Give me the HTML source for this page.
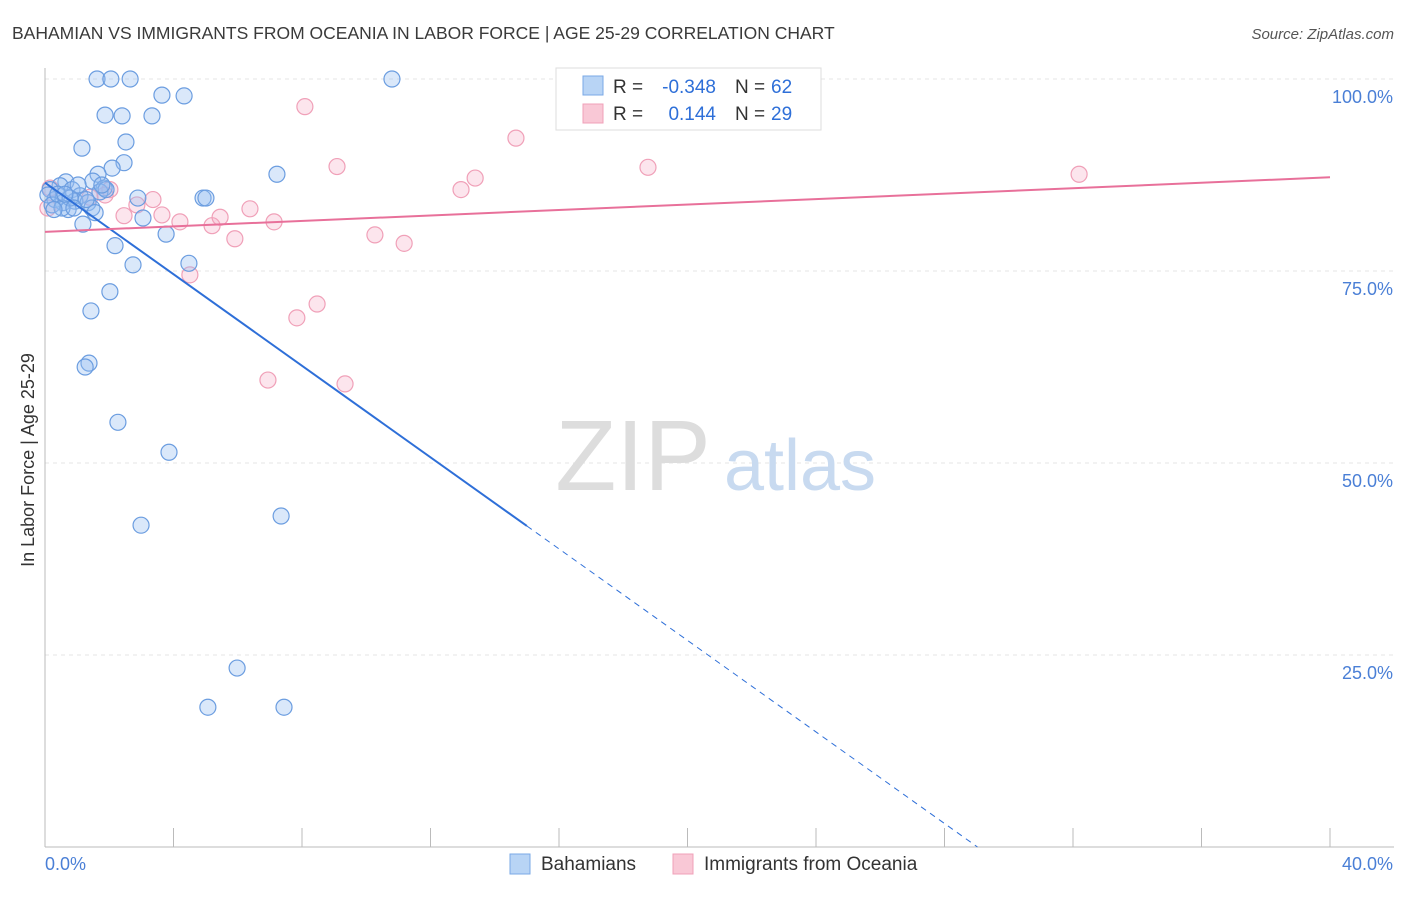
<!DOCTYPE html>
<html><head><meta charset="utf-8"><style>
body{margin:0;background:#fff;font-family:"Liberation Sans",sans-serif;}
svg text{font-family:"Liberation Sans",sans-serif;}
</style></head><body>
<svg id="chart" width="1406" height="892">
<text x="12" y="39" font-size="17.5" fill="#3a3a3a">BAHAMIAN VS IMMIGRANTS FROM OCEANIA IN LABOR FORCE | AGE 25-29 CORRELATION CHART</text>
<text x="1394" y="39" font-size="15" fill="#555" font-style="italic" text-anchor="end">Source: ZipAtlas.com</text>
<g id="grid"></g>
<text x="633" y="490" font-size="100" fill="#ddd" font-family="Liberation Serif" text-anchor="middle">ZIP</text>
<text x="800" y="490" font-size="72" fill="#c8daf0" text-anchor="middle">atlas</text>
<text transform="translate(34,460) rotate(-90)" font-size="18" fill="#333" text-anchor="middle">In Labor Force | Age 25-29</text>
<g id="pts"></g>
<g id="lines"></g>
<g>
<rect x="556" y="68" width="265" height="62" fill="#fff" stroke="#ddd"/>
<rect x="583" y="76" width="20" height="19" fill="#b8d4f5" stroke="#7aa8e6"/>
<rect x="583" y="104" width="20" height="19" fill="#f9c8d6" stroke="#f0a0b8"/>
<text x="613" y="93" font-size="19" fill="#333">R =</text>
<text x="716" y="93" font-size="19" fill="#2e6fd8" text-anchor="end">-0.348</text>
<text x="735" y="93" font-size="19" fill="#333">N =</text>
<text x="771" y="93" font-size="19" fill="#2e6fd8">62</text>
<text x="613" y="120" font-size="19" fill="#333">R =</text>
<text x="716" y="120" font-size="19" fill="#2e6fd8" text-anchor="end">0.144</text>
<text x="735" y="120" font-size="19" fill="#333">N =</text>
<text x="771" y="120" font-size="19" fill="#2e6fd8">29</text>
</g>
<g>
<rect x="510" y="854" width="20" height="20" fill="#b8d4f5" stroke="#7aa8e6"/>
<text x="541" y="870" font-size="19" fill="#333">Bahamians</text>
<rect x="673" y="854" width="20" height="20" fill="#f9c8d6" stroke="#f0a0b8"/>
<text x="704" y="870" font-size="19" fill="#333">Immigrants from Oceania</text>
</g>
</svg>
<script>
const xTicks=[0,4,8,12,16,20,24,28,32,36,40];
const yTicks=[25,50,75,100];
const yTickLabels=["25.0%","50.0%","75.0%","100.0%"];
const blueX=[1.62,2.05,2.65,10.8,3.64,4.33,1.87,2.40,3.33,2.52,1.15,2.46,2.09,7.22,1.65,1.49,0.65,0.47,0.16,0.84,1.84,1.09,2.89,4.92,5.01,0.31,0.56,0.93,1.34,1.46,0.72,1.56,3.05,1.18,3.77,2.18,2.74,4.48,2.02,1.43,1.37,1.25,2.27,3.86,2.99,7.35,5.98,5.07,7.44,0.09,0.22,0.40,0.78,1.03,1.71,1.90,0.53,1.28,0.28,0.90,0.62,1.77];
const blueY=[100,100,100,100,97.9,97.8,95.3,95.2,95.2,91.8,91.0,89.1,88.4,87.6,87.6,86.7,86.6,86.1,85.6,85.6,85.8,84.8,84.5,84.5,84.5,84.3,83.9,84.1,83.9,83.2,83.0,82.6,81.9,81.1,79.8,78.3,75.8,76.0,72.3,69.8,63.0,62.5,55.3,51.4,41.9,43.1,23.3,18.2,18.2,84.9,83.6,85.0,84.5,86.2,85.3,85.6,83.2,84.3,83.0,83.2,85.0,86.2];
const pinkX=[0.16,0.09,2.02,2.86,2.46,3.36,3.64,4.20,5.20,5.45,5.91,6.38,7.13,8.09,9.09,7.84,8.47,6.94,9.34,10.27,11.18,12.95,13.39,14.66,18.77,32.19,4.51,1.40,1.87];
const pinkY=[85.8,83.2,85.6,83.6,82.2,84.3,82.3,81.4,80.9,82.0,79.2,83.1,81.4,96.4,88.6,68.9,70.7,60.8,60.3,79.7,78.6,85.6,87.1,92.3,88.5,87.6,74.5,84.6,84.9];
const blueTrend=[86.5,-2.98];
const pinkTrend=[80.1,0.1775];
const NS="http://www.w3.org/2000/svg";
const X=v=>45+v*32.125, Y=v=>847-v*7.68;
function mk(tag,attrs,parent){const e=document.createElementNS(NS,tag);for(const k in attrs)e.setAttribute(k,attrs[k]);parent.appendChild(e);return e;}
const grid=document.getElementById('grid');
yTicks.forEach((t,i)=>{
 const l=mk('line',{x1:45,x2:1394,y1:Y(t),y2:Y(t),stroke:'#e4e4e4','stroke-dasharray':'4,4'},grid);
 
 
 const tx=mk('text',{x:1393,y:Y(t)+24,'font-size':18,fill:'#4a7fd6','text-anchor':'end'},grid);
 tx.textContent=yTickLabels[i];
 
 
});
const ax=mk('line',{x1:45,x2:1394,y1:847,y2:847,stroke:'#bbb'},grid);


const ay=mk('line',{x1:45,x2:45,y1:68,y2:847,stroke:'#bbb'},grid);


xTicks.forEach(t=>{
 const l=mk('line',{x1:X(t),x2:X(t),y1:828,y2:847,stroke:'#bbb'},grid);
 
 
});
const xl0=mk('text',{x:45,y:870,'font-size':18,fill:'#4a7fd6'},grid);xl0.textContent='0.0%';


const xl1=mk('text',{x:1393,y:870,'font-size':18,fill:'#4a7fd6','text-anchor':'end'},grid);xl1.textContent='40.0%';


const pts=document.getElementById('pts');
pinkX.forEach((x,i)=>{
 const c=mk('circle',{cx:X(x),cy:Y(pinkY[i]),r:8,fill:'rgba(245,170,195,0.3)',stroke:'#f0a0b8','stroke-width':1.2},pts);
 
 
});
blueX.forEach((x,i)=>{
 const c=mk('circle',{cx:X(x),cy:Y(blueY[i]),r:8,fill:'rgba(150,190,240,0.35)',stroke:'#6b9de0','stroke-width':1.2},pts);
 
 
});
const lines=document.getElementById('lines');
const bf=x=>blueTrend[0]+blueTrend[1]*x;
const b1=mk('line',{x1:X(0),y1:Y(bf(0)),x2:X(15),y2:Y(bf(15)),stroke:'#2e6fd8','stroke-width':2},lines);


const xEnd=-blueTrend[0]/blueTrend[1];
const b2=mk('line',{x1:X(15),y1:Y(bf(15)),x2:X(xEnd),y2:Y(0),stroke:'#2e6fd8','stroke-width':1,'stroke-dasharray':'6,5'},lines);


const pf=x=>pinkTrend[0]+pinkTrend[1]*x;
const p1=mk('line',{x1:X(0),y1:Y(pf(0)),x2:X(40),y2:Y(pf(40)),stroke:'#e8709a','stroke-width':2},lines);


</script>
</body></html>
